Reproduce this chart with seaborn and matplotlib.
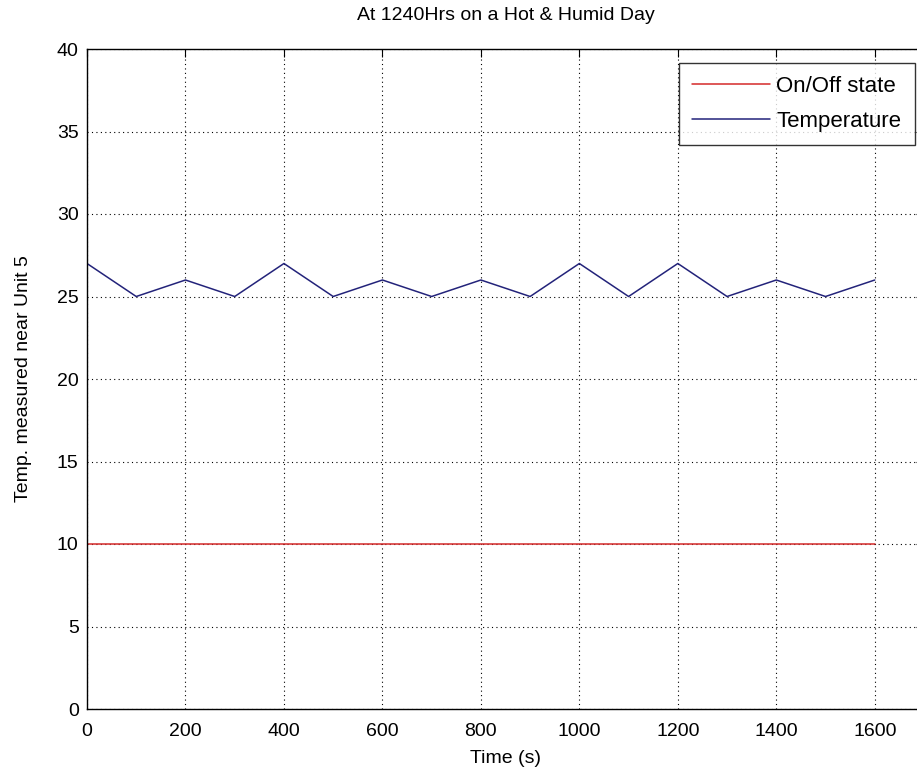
import numpy as np
import pandas as pd
import matplotlib
matplotlib.use("Agg")
import matplotlib.pyplot as plt
import seaborn as sns

time_s = [0, 100, 200, 300, 400, 500, 600, 700, 800, 900, 1000, 1100, 1200, 1300, 1400, 1500, 1600]
temperature = [27, 25, 26, 25, 27, 25, 26, 25, 26, 25, 27, 25, 27, 25, 26, 25, 26]
on_off_state = [10] * len(time_s)

sns.set_style("white")
plt.rcParams['font.family'] = ['Liberation Sans', 'DejaVu Sans']
plt.rcParams['text.color'] = 'black'
plt.rcParams['axes.labelcolor'] = 'black'

fig = plt.figure(figsize=(9.17, 7.79), dpi=100)
# right edge of the axes sits just outside the figure, like the cropped original
ax = fig.add_axes([87 / 917, 70 / 779, 837 / 917, 660 / 779])

sns.lineplot(x=time_s, y=on_off_state, ax=ax, color='#d42a2a', lw=1.1, label='On/Off state')
sns.lineplot(x=time_s, y=temperature, ax=ax, color='#23237a', lw=1.1, label='Temperature')

ax.set_xlim(0, 1700)
ax.set_ylim(0, 40)
ax.set_xticks(np.arange(0, 1601, 200))
ax.set_yticks(np.arange(0, 41, 5))
ax.grid(True, color='black', linestyle=(0, (1, 3)), linewidth=0.8)
ax.tick_params(direction='in', top=True, right=True, length=6, labelsize=14, colors='black')
ax.tick_params(axis='x', pad=10)
ax.tick_params(axis='y', pad=6)
for sp in ax.spines.values():
    sp.set_color('black')
    sp.set_linewidth(1.0)

ax.set_title('At 1240Hrs on a Hot & Humid Day', fontsize=14, pad=21)
ax.set_xlabel('Time (s)', fontsize=14, labelpad=7)
ax.set_ylabel('Temp. measured near Unit 5', fontsize=14, labelpad=18)

leg = ax.legend(loc='upper right', bbox_to_anchor=(0.989, 0.979), borderaxespad=0,
                fontsize=16, frameon=True, fancybox=False, handlelength=3.5,
                handletextpad=0.3, borderpad=0.6, labelspacing=0.6)
leg.get_frame().set_edgecolor('black')
leg.get_frame().set_linewidth(1.0)

fig.savefig('out.png', dpi=100)
